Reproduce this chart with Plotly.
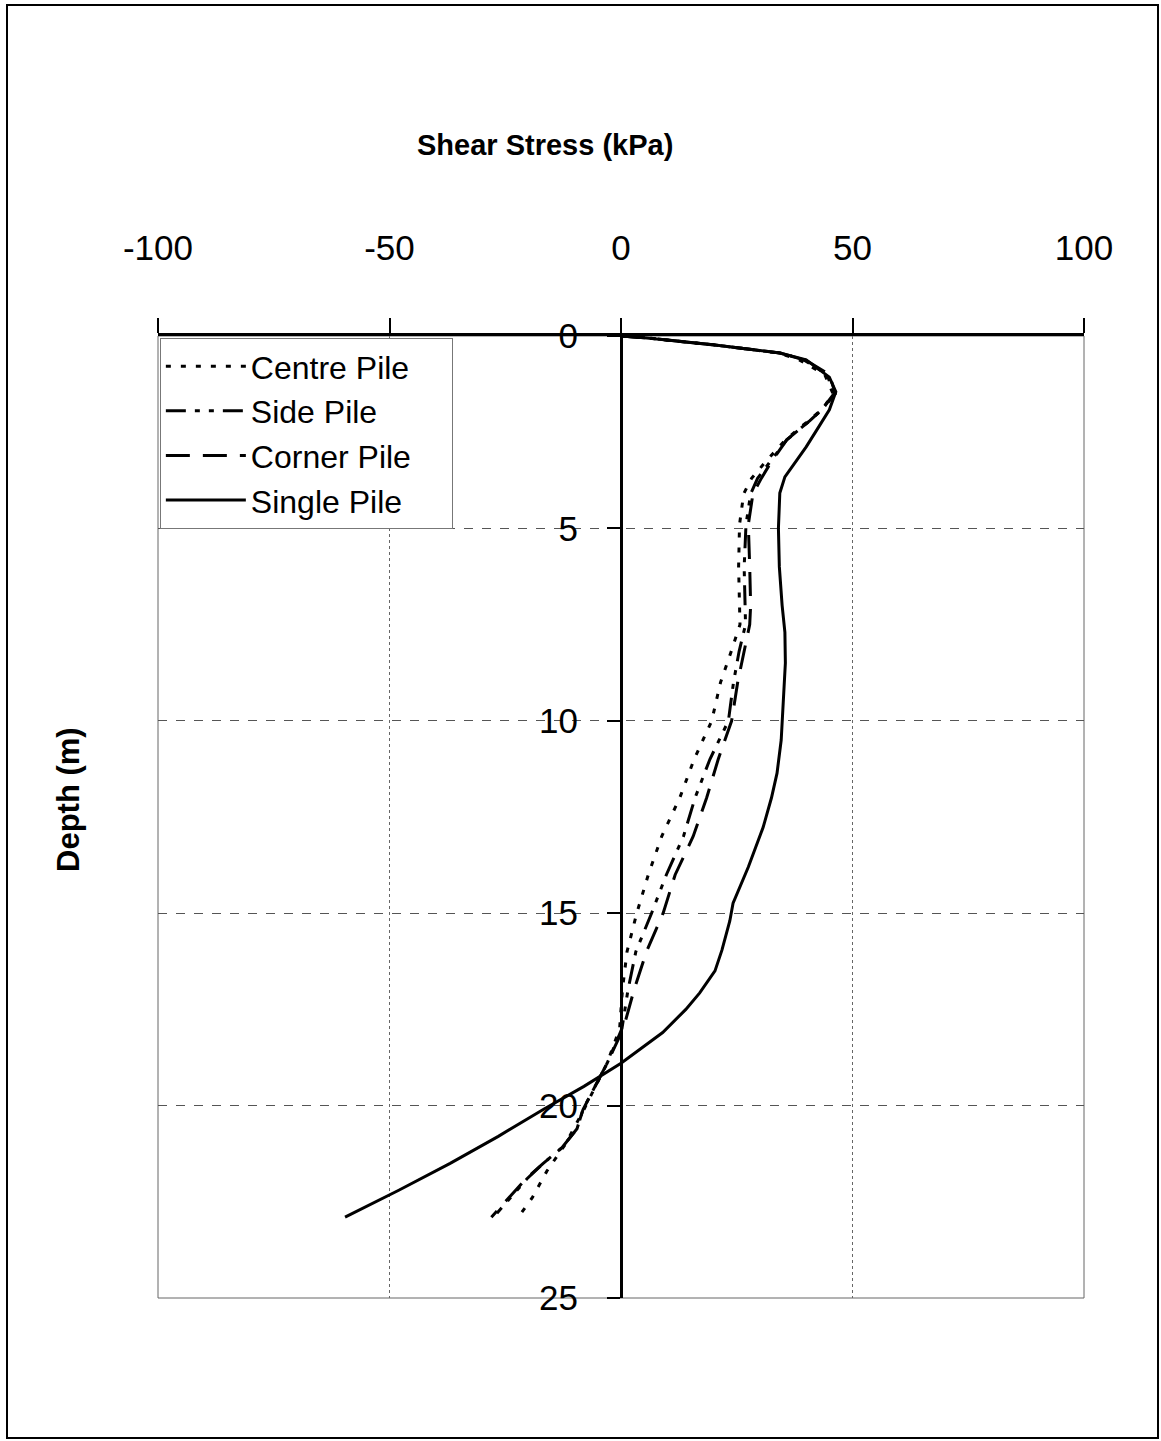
import plotly.graph_objects as go

# ---------------- data ----------------
depth_single = [0, 0.05, 0.23, 0.44, 0.62, 1.07, 1.45, 1.92, 2.4, 2.88, 3.66, 4.08, 5, 6, 7, 7.7,
                8.5, 9.8, 10.5, 11.36, 12.0, 12.77, 13.8, 14.74, 15.2, 15.96, 16.5, 17.07, 17.5,
                18.1, 18.5, 18.9, 19.5, 20.1, 20.8, 21.5, 22.2, 22.9]
single = [0, 5.6, 19.9, 34.3, 40, 45, 46.4, 45, 42.5, 40, 35.4, 34.3, 34.0, 34.2, 34.8, 35.4,
          35.5, 35, 34.6, 33.7, 32.5, 30.7, 27.5, 24.2, 23.5, 21.8, 20.3, 17, 14,
          9, 4.5, 0, -8, -16.8, -26.5, -36.9, -48, -59.6]

depth_centre = [0, 0.05, 0.23, 0.44, 0.62, 1.0, 1.5, 1.9, 2.2, 2.7, 3.3, 3.7, 4.1, 4.9, 6, 7, 7.5,
                8.2, 9, 10, 11, 12, 13, 14, 15, 16, 17, 18, 18.9, 20.1, 21, 21.7, 22.4, 22.9]
centre = [0, 5.6, 19.9, 34, 38.5, 44, 45.8, 43.5, 40.5, 35.5, 31, 28.2, 26.5, 25.6, 25.4, 25.7, 25.7,
          23.8, 21.5, 19.6, 15.8, 12.7, 8.8, 5.9, 3.4, 1.3, 0.3, -0.3, -3, -8, -12, -16, -19.2, -22.2]

depth_side = [0, 0.05, 0.23, 0.44, 0.62, 1.0, 1.5, 1.9, 2.2, 2.7, 3.3, 3.7, 4.1, 4.9, 6, 7, 7.5,
              8.2, 9, 10, 11, 12, 13, 14, 15, 16, 17, 18, 18.9, 20.1, 20.6, 21.1, 21.5, 21.9, 22.8]
side = [0, 5.6, 19.9, 34.3, 39.5, 44.5, 46, 43.5, 40.8, 35.8, 32, 29.5, 28, 27, 26.6, 26.9, 26.9,
        25.5, 24.3, 23.2, 19.2, 16, 13.5, 9.8, 6.6, 3.2, 1.5, 0.2, -3, -8.2, -9.5, -12.8, -16.8, -20.3, -26.8]

depth_corner = [0, 0.05, 0.23, 0.44, 0.62, 1.0, 1.5, 1.9, 2.2, 2.7, 3.3, 3.7, 4.1, 4.9, 6, 7, 7.5,
                8.2, 9, 10, 11, 12, 13, 14, 15, 16, 17, 18, 18.9, 20.1, 20.6, 21.1, 21.5, 21.9, 22.9]
corner = [0, 5.6, 19.9, 34.3, 39.8, 45, 46.3, 43.5, 40.8, 35.8, 32.3, 30.3, 28.5, 27.5, 27.8, 28, 27.8,
          26.6, 25.2, 23.9, 21, 18.5, 15.6, 11.7, 9.1, 5.5, 2.8, 0.5, -3, -8.2, -9.5, -12.8, -16.8, -20.5, -28]

x_ticks = [-100, -50, 0, 50, 100]
x_ticktext = ["-100", "-50", "0", "50", "100"]
y_ticks = [0, 5, 10, 15, 20, 25]

FONT = "Liberation Sans, Arial, sans-serif"
PAD = "\u00a0" * 4

fig = go.Figure()
fig.add_trace(go.Scatter(x=centre, y=depth_centre, mode="lines", name="Centre Pile" + PAD,
                         line=dict(color="black", width=3, dash="5px,10px")))
fig.add_trace(go.Scatter(x=side, y=depth_side, mode="lines", name="Side Pile",
                         line=dict(color="black", width=3, dash="20px,9px,5px,9px,5px,9px")))
fig.add_trace(go.Scatter(x=corner, y=depth_corner, mode="lines", name="Corner Pile" + PAD,
                         line=dict(color="black", width=3, dash="24px,13px")))
fig.add_trace(go.Scatter(x=single, y=depth_single, mode="lines", name="Single Pile",
                         line=dict(color="black", width=3)))

fig.update_layout(
    width=1161, height=1441,
    margin=dict(l=158, r=77, t=336, b=143),
    paper_bgcolor="white", plot_bgcolor="white",
    font=dict(family=FONT, color="black"),
    showlegend=True,
    legend=dict(x=0.002, y=0.998, xanchor="left", yanchor="top",
                bgcolor="white", bordercolor="#777", borderwidth=1,
                font=dict(size=32, family=FONT, color="black"),
                itemwidth=80, tracegroupgap=0),
    xaxis=dict(range=[-100, 100], side="top", tickvals=x_ticks, ticktext=x_ticktext,
               ticks="outside", ticklen=15, tickwidth=2, tickcolor="black",
               showline=True, linewidth=3, linecolor="black",
               showgrid=True, gridcolor="#666", gridwidth=1, griddash="dot",
               zeroline=False, tickfont=dict(size=35, family=FONT),
               ticklabelstandoff=44),
    yaxis=dict(range=[25, 0], tickvals=y_ticks, anchor="free", position=0.5,
               ticks="outside", ticklen=13, tickwidth=2, tickcolor="black",
               showline=True, linewidth=3, linecolor="black",
               showgrid=True, gridcolor="#555", gridwidth=1, griddash="dash",
               zeroline=False, tickfont=dict(size=35, family=FONT),
               ticklabelstandoff=22),
)

# plot-area border (thin) and outer frame
fig.add_shape(type="rect", xref="paper", yref="paper", x0=0, x1=1, y0=0, y1=1,
              line=dict(color="#666", width=1), layer="below")
fig.add_shape(type="rect", xref="paper", yref="paper",
              x0=(7 - 158) / 926, x1=(1158 - 158) / 926,
              y0=(1298 - 1438) / 962, y1=(1298 - 5) / 962,
              line=dict(color="black", width=2))

# axis titles
fig.add_annotation(text="<b>Shear Stress (kPa)</b>", xref="paper", yref="paper",
                   x=(545 - 158) / 926, y=(1298 - 145) / 962, showarrow=False,
                   font=dict(size=29, family=FONT), xanchor="center", yanchor="middle")
fig.add_annotation(text="<b>Depth (m)</b>", xref="paper", yref="paper",
                   x=(68 - 158) / 926, y=(1298 - 800) / 962, showarrow=False, textangle=-90,
                   font=dict(size=31, family=FONT), xanchor="center", yanchor="middle")

fig.write_html("out.html")
